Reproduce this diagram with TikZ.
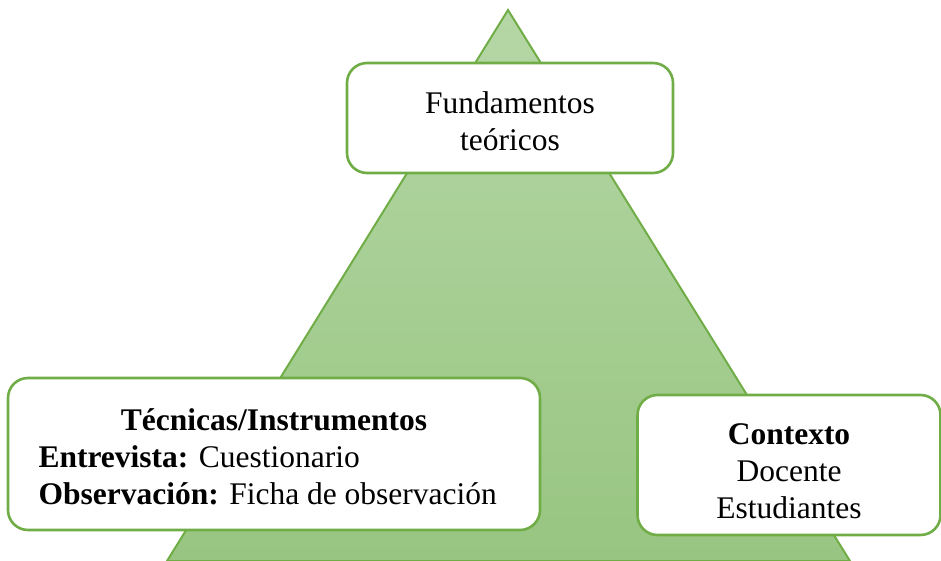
\documentclass[tikz,border=0pt]{standalone}
\usepackage{fontspec}
\setmainfont{Liberation Serif}
\usetikzlibrary{positioning}
\definecolor{boxgreen}{HTML}{70AD47}
\definecolor{toplight}{HTML}{B5D7A6}
\definecolor{botdark}{HTML}{98C581}
\tikzset{
  infobox/.style={rectangle,rounded corners=20pt,draw=boxgreen,line width=2.6pt,fill=white,align=center,inner sep=0pt},
  bigtext/.style={font=\fontsize{31.5}{37}\selectfont}
}
\begin{document}
\begin{tikzpicture}[x=1pt,y=-1pt]
\useasboundingbox (0,0) rectangle (941,561);
% piramide
\coordinate (apex) at (508,10);
\coordinate (baseL) at (167,561);
\coordinate (baseR) at (850,561);
\shade[top color=toplight,bottom color=botdark,draw=boxgreen,line width=2pt] (apex) -- (baseL) -- (baseR) -- cycle;
% cajas
\node at (510,118)[infobox,minimum width=326pt,minimum height=110pt](fund){};
\node at (274,454)[infobox,minimum width=532pt,minimum height=152pt](tec){};
\node at (789,465)[infobox,minimum width=303pt,minimum height=140pt](ctx){};
% textos
\node at (510,121)[bigtext,align=center](fundtxt){Fundamentos\\teóricos};
\node at (274,420)[bigtext](tectit){\textbf{Técnicas/Instrumentos}};
\node at (35,475)[bigtext,anchor=west,align=left](teclst){\textbf{Entrevista:} Cuestionario\\\textbf{Observación:} Ficha de observación};
\node at (789,471)[bigtext,align=center](ctxtxt){\textbf{Contexto}\\Docente\\Estudiantes};
\end{tikzpicture}
\end{document}
